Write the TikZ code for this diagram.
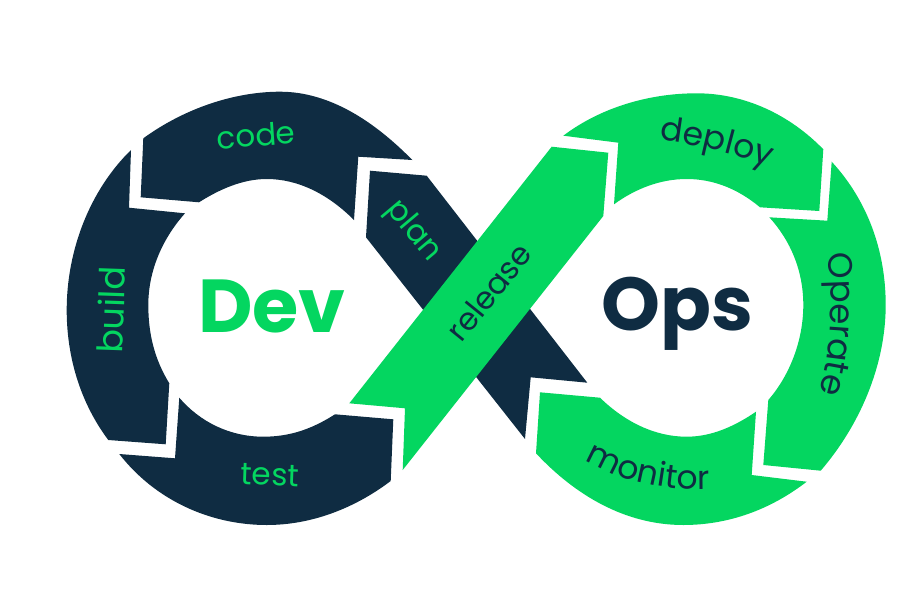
\documentclass[tikz,border=0pt]{standalone}
\usepackage{fontspec}
\setmainfont{Poppins}
\usetikzlibrary{decorations.text}
\definecolor{navy}{RGB}{15,44,66}
\definecolor{mint}{RGB}{4,214,96}
\newcommand{\lblsize}[1]{\fontsize{#1}{#1}\selectfont}
\tikzset{
  x=1pt,y=-1pt,
  darkseg/.style={fill=navy,draw=none},
  greenseg/.style={fill=mint,draw=none},
  lblgreen/.style={text=mint,font=\lblsize{31},inner sep=0pt},
  lblnavy/.style={text=navy,font=\lblsize{31},inner sep=0pt},
  bigword/.style={font=\lblsize{75}\bfseries,inner sep=0pt},
}
\begin{document}
\begin{tikzpicture}
\useasboundingbox (0,0) rectangle (900,600);
% code
\fill[darkseg] (143.3,138.3) .. controls (185,108) and (235,91.7) .. (280,91.7) .. controls (330,91.7) and (375,122) .. (412.3,160)
  -- (358.3,156.7) -- (354,220)
  .. controls (328,194) and (298,179) .. (266.7,179) .. controls (243,179) and (220,189) .. (199,202.3)
  -- (140.7,197.3) -- cycle;
% build
\fill[darkseg] (131,150) .. controls (90,190) and (66.7,250) .. (66.7,310) .. controls (66.7,360) and (82,405) .. (108.3,440)
  -- (165.7,444.3) -- (169.3,383.3)
  .. controls (155,360) and (148.3,335) .. (148.3,305) .. controls (148.3,270) and (163,238) .. (185,213.3)
  -- (129,207.7) -- cycle;
% test
\fill[darkseg] (119.3,454) .. controls (155,500) and (210,525) .. (266.7,525) .. controls (312,525) and (355,508) .. (390.7,481)
  -- (393.3,419.3) -- (335,414.3)
  .. controls (312,429) and (290,436.7) .. (263.3,436.7) .. controls (230,436.7) and (200,422) .. (179.3,397.7)
  -- (175,458.3) -- cycle;
% plan + lower
\fill[darkseg] (370,170.7) -- (426.7,175.7) -- (587.3,382.7) -- (530.7,377.3) -- (525,439) -- (366,237.3) -- cycle;
% release
\fill[greenseg] (551.7,146.7) -- (608.3,152.7) -- (603.3,216) -- (402.7,470) -- (405,408.3) -- (349.3,403.3) -- cycle;
% deploy
\fill[greenseg] (563.3,135.7) .. controls (600,108) and (648,93.3) .. (696.7,93.3) .. controls (745,93.3) and (790,115) .. (823.3,149.3)
  -- (819.3,211) -- (760,207.3)
  .. controls (737,188) and (712,179) .. (686.7,179) .. controls (660,179) and (635,189) .. (614,204.3)
  -- (618.3,142.7) -- cycle;
% operate
\fill[greenseg] (831.7,161.7) .. controls (867,200) and (885.7,250) .. (885.7,305) .. controls (885.7,365) and (860,425) .. (820.7,470.7)
  -- (763.3,465) -- (768.3,400)
  .. controls (790,375) and (803.3,340) .. (803.3,305) .. controls (803.3,270) and (790,240) .. (769.3,217.3)
  -- (827.3,220.7) -- cycle;
% monitor
\fill[greenseg] (540,392.3) -- (600,397.7)
  .. controls (625,422) and (655,436.7) .. (686.7,436.7) .. controls (712,436.7) and (735,426) .. (756,411.7)
  -- (751.7,475) -- (806.7,481.7)
  .. controls (770,510) and (728,525) .. (683.3,525) .. controls (625,525) and (575,495) .. (536,453.3)
  -- cycle;
% labels
\node[lblgreen,rotate=4] (code) at (256,135) {code};
\node[lblgreen,font=\lblsize{35},rotate=88] (build) at (111,310) {build};
\node[lblgreen,rotate=-2] (test) at (270,475) {test};
\node[lblgreen,rotate=-50] (plan) at (413,231) {plan};
\node[lblnavy,rotate=51] (release) at (489,292) {release};
\node[bigword,text=mint] (dev) at (272,306) {Dev};
\node[bigword,text=navy] (ops) at (677,314) {Ops};
\path[decorate,decoration={text along path,text align=center,text color=navy,text={|\lblsize{33}|deploy}}]
  (650,139) .. controls (675,141) and (730,150) .. (778,170);
\path[decorate,decoration={text along path,text align=center,text color=navy,text={|\lblsize{34}|Operate}}]
  (826,244) .. controls (833,290) and (834,350) .. (816,402);
\path[decorate,decoration={text along path,text align=center,text color=navy,text={|\lblsize{33}|monitor}}]
  (580,456) .. controls (610,478) and (660,492) .. (716,489);
\end{tikzpicture}
\end{document}
